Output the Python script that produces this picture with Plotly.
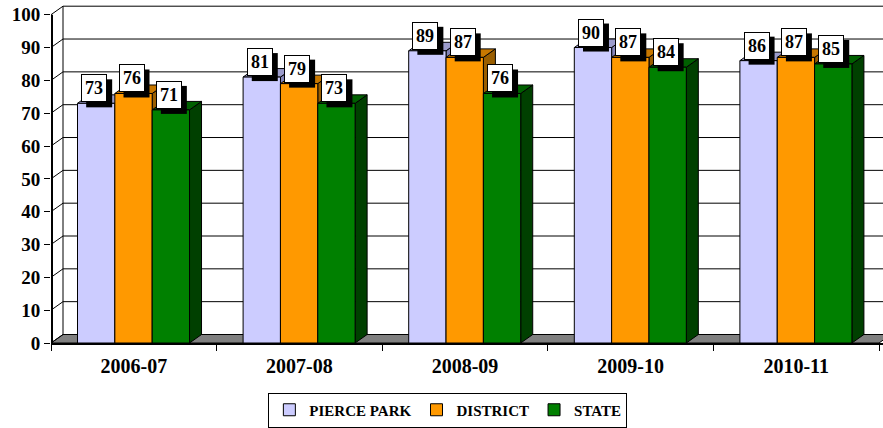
import plotly.graph_objects as go

YEARS = ["2006-07", "2007-08", "2008-09", "2009-10", "2010-11"]
PIERCE_PARK = [73, 81, 89, 90, 86]
DISTRICT = [76, 79, 87, 87, 87]
STATE = [71, 73, 76, 84, 85]
Y_TICKS = list(range(0, 101, 10))

# name, values, front colour, top colour, side colour
SERIES = [
    ("PIERCE PARK", PIERCE_PARK, "#CCCCFF", "#9C9CCC", "#8585B8"),
    ("DISTRICT", DISTRICT, "#FF9900", "#C87800", "#9A5E00"),
    ("STATE", STATE, "#008000", "#006000", "#004000"),
]

FONT = "Liberation Serif"
PX_X = 165.6          # pixels per category
PX_Y = 3.283          # pixels per percent
DX = 12 / PX_X        # 3-D depth offset, x units
DY = 8.5 / PX_Y       # 3-D depth offset, y units
Y_TOP = 338 / PX_Y
BAR_W = 0.2255
GROUP_START = -0.34
X_LEFT = -0.5
X_RIGHT = len(YEARS) - 0.5
X_MAX = X_LEFT + 832 / PX_X

# data label box, pixels
LBL_W, LBL_H = 26, 28
LBL_DX, LBL_DY = -2, 1
SHADOW = 5

fig = go.Figure()
shapes = []
line_blk = {"color": "black", "width": 1}

# floor
shapes.append(dict(
    type="path", layer="below", fillcolor="#808080", line=line_blk,
    path=f"M{X_LEFT},0 L{X_RIGHT},0 L{X_RIGHT + DX},{DY} L{X_LEFT + DX},{DY} Z",
))
# back-wall gridlines and side-wall slants
for v in Y_TICKS:
    shapes.append(dict(type="line", layer="below", line=line_blk,
                       x0=X_LEFT, y0=v, x1=X_LEFT + DX, y1=v + DY))
    shapes.append(dict(type="line", layer="below", line=line_blk,
                       x0=X_LEFT + DX, y0=v + DY, x1=X_RIGHT + DX, y1=v + DY))
shapes.append(dict(type="line", layer="below", line=line_blk,
                   x0=X_LEFT + DX, y0=DY, x1=X_LEFT + DX, y1=100 + DY))
# front value axis
shapes.append(dict(type="line", layer="above", line={"color": "black", "width": 2},
                   x0=X_LEFT + 1 / PX_X, y0=0, x1=X_LEFT + 1 / PX_X, y1=100))

annotations = []
for i, (name, vals, front, top, side) in enumerate(SERIES):
    fig.add_trace(go.Bar(
        x=list(range(len(YEARS))), y=vals, name=name,
        width=BAR_W, offset=GROUP_START + i * BAR_W,
        marker=dict(color=front, line=dict(color="black", width=1)),
    ))

for j in range(len(YEARS)):
    for i, (name, vals, front, top, side) in enumerate(SERIES):
        v = vals[j]
        xl = j + GROUP_START + i * BAR_W
        xr = xl + BAR_W
        xc = xl + BAR_W / 2
        shapes.append(dict(
            type="path", layer="between", fillcolor=side, line=line_blk,
            path=f"M{xr},0 L{xr},{v} L{xr + DX},{v + DY} L{xr + DX},{DY} Z",
        ))
        shapes.append(dict(
            type="path", layer="between", fillcolor=top, line=line_blk,
            path=f"M{xl},{v} L{xl + DX},{v + DY} L{xr + DX},{v + DY} L{xr},{v} Z",
        ))
        # drop shadow of the data label
        shapes.append(dict(
            type="rect", layer="above", fillcolor="black", line={"width": 0},
            xsizemode="pixel", ysizemode="pixel", xanchor=xc, yanchor=v,
            x0=LBL_DX - LBL_W / 2 + SHADOW, x1=LBL_DX + LBL_W / 2 + SHADOW,
            y0=LBL_DY - SHADOW, y1=LBL_DY + LBL_H - SHADOW,
        ))
        annotations.append(dict(
            x=xc, y=v, xref="x", yref="y",
            xanchor="center", yanchor="bottom", xshift=LBL_DX, yshift=LBL_DY,
            text=str(v), showarrow=False,
            width=LBL_W - 2, height=LBL_H - 2,
            font=dict(family=FONT, size=18, color="black", weight="bold"),
            bgcolor="white", bordercolor="black", borderwidth=1, borderpad=0,
        ))

fig.update_layout(
    width=883, height=428,
    margin=dict(l=51, r=0, t=5, b=85),
    plot_bgcolor="white", paper_bgcolor="white",
    barmode="overlay",
    shapes=shapes, annotations=annotations,
    font=dict(family=FONT, color="black"),
    showlegend=True,
    legend=dict(
        orientation="h", x=0.477, xanchor="center",
        yref="container", y=1 - 410 / 428, yanchor="middle",
        font=dict(family=FONT, size=15, color="black", weight="bold"),
        bordercolor="black", borderwidth=1, itemwidth=30,
    ),
    xaxis=dict(
        range=[X_LEFT, X_MAX], tickvals=list(range(len(YEARS))), ticktext=YEARS,
        ticks="", ticklabelstandoff=4, showgrid=False, zeroline=False,
        showline=True, linecolor="black", linewidth=2, automargin=False,
        tickfont=dict(family=FONT, size=20, color="black", weight="bold"),
        minor=dict(tickvals=[X_LEFT + k for k in range(len(YEARS) + 1)],
                   ticks="outside", ticklen=6, tickcolor="black", tickwidth=1),
    ),
    yaxis=dict(
        range=[0, Y_TOP], tickvals=Y_TICKS, ticks="outside", ticklen=6,
        tickcolor="black", tickwidth=1, showgrid=False, zeroline=False,
        showline=False, automargin=False,
        tickfont=dict(family=FONT, size=19, color="black", weight="bold"),
    ),
)

# the page's default body margin would shift the chart by 8px
fig.write_html(
    "out.html",
    config={"displayModeBar": False},
    post_script="document.body.style.margin = '0';",
)
